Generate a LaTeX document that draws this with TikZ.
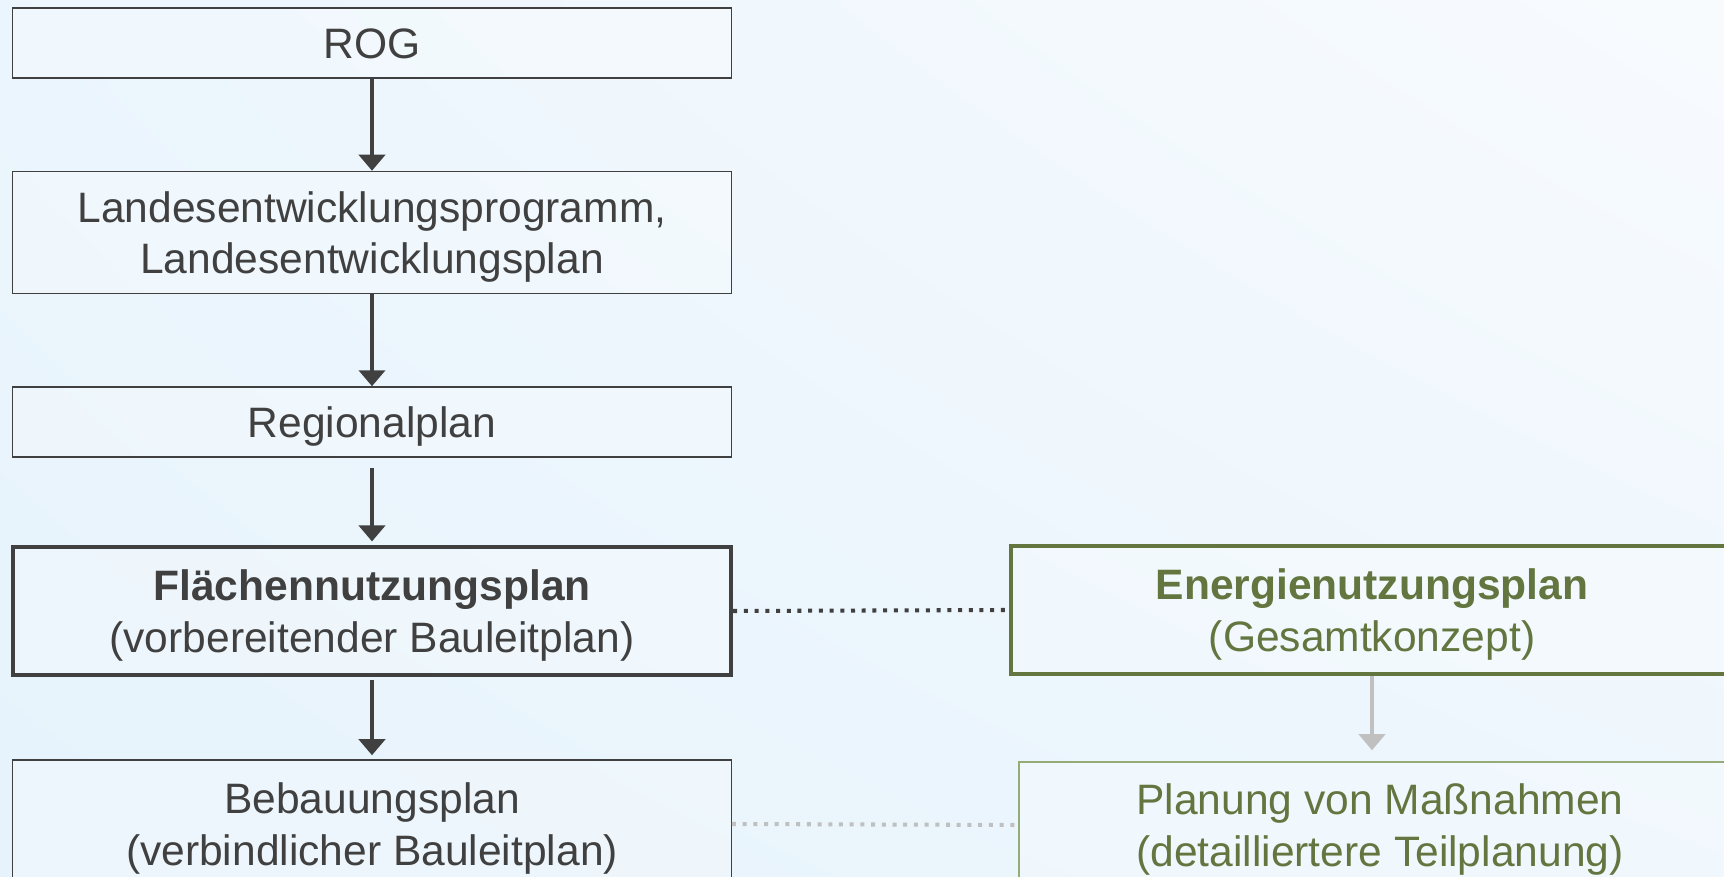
\documentclass[tikz,border=0pt]{standalone}
\usepackage{fontspec}
\setmainfont{Liberation Sans}
\usetikzlibrary{arrows.meta,shadings}
\definecolor{planGray}{RGB}{64,64,64}
\definecolor{planGreen}{RGB}{99,118,64}
\definecolor{paleGreen}{RGB}{150,172,120}
\definecolor{arrowGray}{RGB}{192,192,192}
\definecolor{bgBlue}{RGB}{230,243,252}
\definecolor{bgPale}{RGB}{248,251,254}

\begin{document}
\begin{tikzpicture}[x=0.01cm,y=-0.01cm,
        planbox/.style={draw=planGray,line width=0.4pt,fill=white,fill opacity=0.25,text opacity=1,
            text=planGray,align=center,inner sep=0pt,minimum width=7.18cm,
            font=\fontsize{12.1}{14.6}\selectfont,
            execute at begin node={\rule{0pt}{11.66pt}},
            execute at end node={\rule[-3pt]{0pt}{3pt}}},
        twoline/.style={execute at begin node={\rule{0pt}{26.5pt}}},
        mainbox/.style={planbox,line width=1.15pt},
        greenbox/.style={planbox,draw=planGreen,text=planGreen,minimum width=7.22cm},
        flow/.style={-{Triangle[width=0.26cm,length=0.16cm]},line width=1.3pt,draw=planGray},
        dotline/.style={line width=1.15pt,dash pattern=on 0.04cm off 0.067cm}]
                \clip (0,0) rectangle (1724,877);
                \shade[lower left=bgBlue,lower right=bgBlue!60!bgPale,upper left=bgBlue!70!bgPale,upper right=bgPale]
                    (0,0) rectangle (1724,877);

                % linke Spalte
                \node[planbox,minimum height=0.70cm] (rog) at (372,43) {ROG};
                \node[planbox,twoline,minimum height=1.22cm] (lep) at (372,232.5) {Landesentwicklungsprogramm,\\Landesentwicklungsplan};
                \node[planbox,minimum height=0.70cm] (rp) at (372,422) {Regionalplan};
                \node[mainbox,twoline,minimum height=1.27cm] (fnp) at (372,611) {\textbf{Flächennutzungsplan}\\(vorbereitender Bauleitplan)};
                \node[planbox,twoline,minimum height=1.28cm] (bp) at (372,824) {Bebauungsplan\\(verbindlicher Bauleitplan)};

                % rechte Spalte
                \node[greenbox,twoline,line width=1.15pt,minimum height=1.27cm] (enp) at (1372,610) {\textbf{Energienutzungsplan}\\(Gesamtkonzept)};
                \node[greenbox,twoline,draw=paleGreen,minimum height=1.26cm] (mass) at (1380,825) {Planung von Maßnahmen\\(detailliertere Teilplanung)};

                \draw[flow] (rog) -- (lep);
                \draw[flow] (lep) -- (rp);
                \draw[flow,shorten <=0.1cm,shorten >=0.04cm] (rp) -- (fnp);
                \draw[flow,shorten <=0.03cm,shorten >=0.04cm] (fnp) -- (bp);
                \draw[flow,draw=arrowGray,line width=1pt,shorten >=0.11cm] (enp.south) -- (enp.south |- mass.north);

                \draw[dotline,draw=planGray] (fnp.east) -- (enp.west);
                \draw[dotline,draw=arrowGray] (bp.east) -- (mass.west);
            \end{tikzpicture}
\end{document}
